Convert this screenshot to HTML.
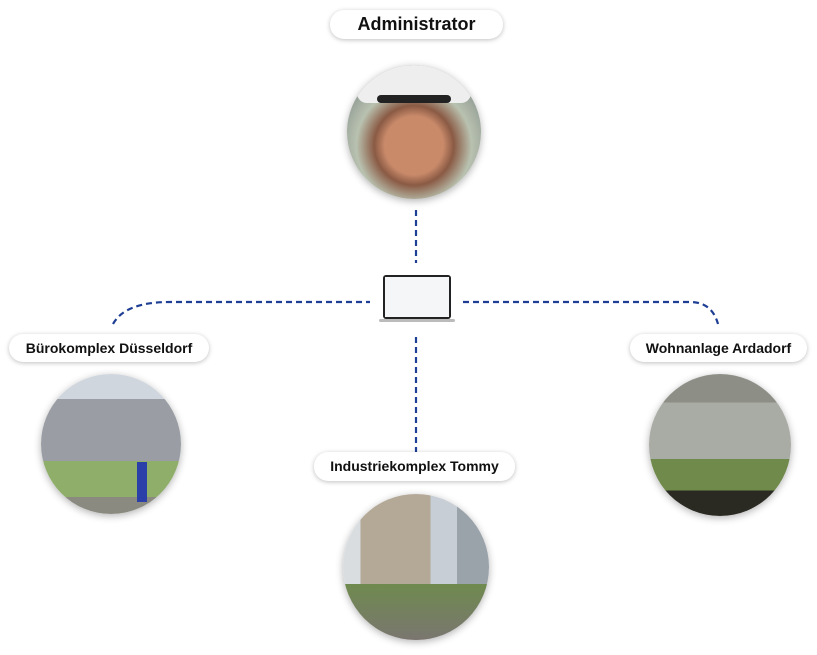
<!DOCTYPE html>
<html><head><meta charset="utf-8"><style>
body{margin:0;width:817px;height:655px;background:#fff;position:relative;overflow:hidden;font-family:"Liberation Sans",sans-serif}
.pill{position:absolute;background:#fff;border-radius:14px;box-shadow:0 1px 5px rgba(0,0,0,.25);font-weight:bold;color:#111;text-align:center;white-space:nowrap}
.c{position:absolute;border-radius:50%;box-shadow:0 2px 8px rgba(0,0,0,.3);overflow:hidden}
</style></head><body>
<svg width="817" height="655" style="position:absolute;left:0;top:0">
<g stroke="#1f3f94" stroke-width="2.2" fill="none" stroke-dasharray="6,4">
<line x1="416" y1="210" x2="416" y2="263"/>
<line x1="416" y1="337" x2="416" y2="452"/>
<path d="M113 324 Q125 302 170 302 L370 302"/>
<path d="M463 302 L690 302 Q712 302 718 324"/>
</g>
</svg>
<div class="pill" style="left:330px;top:10px;width:173px;height:29px;line-height:29px;font-size:18px">Administrator</div>
<div class="c" style="left:347px;top:65px;width:134px;height:134px;background:radial-gradient(circle at 50% 60%,#c98a6a 0 28%,#8a5a44 38%,#b9c2b0 55%,#9aa49a 70%)">
<div style="position:absolute;left:10px;top:0;width:114px;height:38px;background:#eee;border-radius:50% 50% 10px 10px"></div>
<div style="position:absolute;left:30px;top:30px;width:74px;height:8px;background:#222;border-radius:4px"></div>
</div>
<div style="position:absolute;left:383px;top:275px;width:68px;height:44px;background:#222;border-radius:3px"><div style="margin:2px;height:40px;background:#f4f6f8"></div></div>
<div style="position:absolute;left:379px;top:319px;width:76px;height:3px;background:#bbb;border-radius:2px"></div>
<div class="pill" style="left:9px;top:334px;width:200px;height:28px;line-height:28px;font-size:14px">Bürokomplex Düsseldorf</div>
<div class="c" style="left:41px;top:374px;width:140px;height:140px;background:linear-gradient(#cfd6de 0 18%,#9a9ea4 18% 62%,#8fae6a 62% 88%,#8a8a80 88%)">
<div style="position:absolute;left:96px;top:88px;width:10px;height:40px;background:#2a40a8"></div></div>
<div class="pill" style="left:630px;top:334px;width:177px;height:28px;line-height:28px;font-size:14px">Wohnanlage Ardadorf</div>
<div class="c" style="left:649px;top:374px;width:142px;height:142px;background:linear-gradient(#8d8e86 0 20%,#a9aca4 20% 60%,#6f8a4a 60% 82%,#2b2a22 82%)"></div>
<div class="pill" style="left:314px;top:452px;width:201px;height:29px;line-height:29px;font-size:14px">Industriekomplex Tommy</div>
<div class="c" style="left:343px;top:494px;width:146px;height:146px;background:linear-gradient(90deg,#d9dde0 0 12%,#b4a896 12% 60%,#c8ced6 60% 78%,#9aa2aa 78%)">
<div style="position:absolute;left:0;top:90px;width:146px;height:56px;background:linear-gradient(#6f8a4e,#7a7670)"></div></div>
</body></html>
